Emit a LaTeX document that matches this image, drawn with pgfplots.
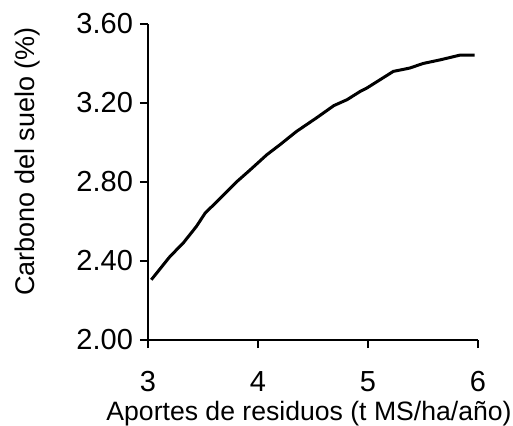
\documentclass[border=0pt]{standalone}
\usepackage{fontspec}
\setmainfont{Liberation Sans}
\usepackage{pgfplots}
\pgfplotsset{compat=1.18}
\begin{document}
\begin{tikzpicture}
\begin{axis}[
  scale only axis,
  width=165pt, height=158pt,
  xmin=3, xmax=6, ymin=2, ymax=3.6,
  axis lines*=left,
  axis line style={line width=1.2pt},
  xtick={3,4,5,6},
  ytick={2,2.4,2.8,3.2,3.6},
  tick align=outside,
  major tick length=4pt,
  tick style={line width=1.2pt, black},
  tick label style={font=\fontsize{14.5}{17}\selectfont},
  /pgf/number format/assume math mode=true,
  yticklabel style={/pgf/number format/.cd, fixed, fixed zerofill, precision=2},
  xticklabel style={yshift=-8pt},
  xlabel={Aportes de residuos (t MS/ha/año)},
  ylabel={Carbono del suelo (\%)},
  xlabel style={font=\fontsize{13.3}{16}\selectfont, yshift=2pt, xshift=-2pt},
  every axis y label/.style={at={(rel axis cs:0,0.565)}, xshift=-60pt,
    rotate=90, anchor=center, font=\fontsize{13.5}{16}\selectfont},
]
\addplot[line width=1.5pt, black] coordinates {
  (3.03,2.305) (3.20,2.423) (3.32,2.491) (3.44,2.575) (3.52,2.643)
  (3.66,2.719) (3.81,2.803) (3.93,2.862) (4.08,2.938) (4.20,2.989)
  (4.35,3.056) (4.53,3.124) (4.69,3.187) (4.81,3.217) (4.93,3.259)
  (4.99,3.276) (5.23,3.360) (5.38,3.377) (5.50,3.400) (5.66,3.419)
  (5.84,3.443) (5.97,3.443)
};
\coordinate (O) at (rel axis cs:0,0);
\end{axis}
\pgfresetboundingbox
\path ([shift={(-74pt,-42.5pt)}]O) rectangle ([shift={(182.5pt,170pt)}]O);
\end{tikzpicture}
\end{document}
